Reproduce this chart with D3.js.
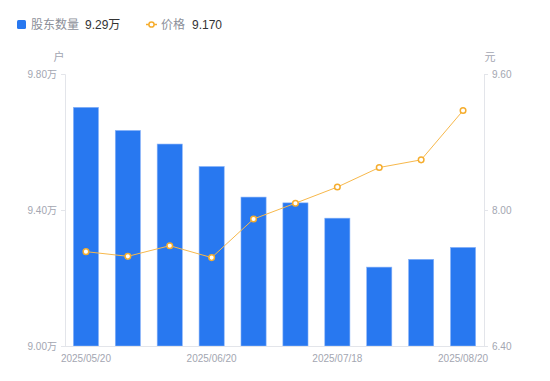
<!DOCTYPE html>
<html><head><meta charset="utf-8">
<script src="https://cdn.jsdelivr.net/npm/d3@7"></script>
<style>body{margin:0;background:#fff;}svg{display:block;font-family:"Liberation Sans",Arial,"Noto Sans CJK SC",sans-serif;}</style>
</head><body><svg id="c" width="550" height="381"></svg>
<script>
const dates = ["2025/05/20","2025/05/30","2025/06/10","2025/06/20","2025/06/30","2025/07/10","2025/07/18","2025/07/31","2025/08/10","2025/08/20"];
const holders = [9.702, 9.634, 9.594, 9.528, 9.438, 9.421, 9.376, 9.232, 9.255, 9.29];
const prices = [7.51, 7.455, 7.58, 7.44, 7.894, 8.08, 8.27, 8.50, 8.59, 9.17];
const leftTicks = [9.00, 9.40, 9.80];
const rightTicks = [6.40, 8.00, 9.60];
const shownDates = ["2025/05/20","2025/06/20","2025/07/18","2025/08/20"];

const svg = d3.select("#c");
const L = 65, R = 484, T = 74, B = 346;
const axisCol = "#e3e5ea", txtCol = "#a3a6b1";

const x = d3.scaleBand().domain(dates).range([L, R]).paddingInner(0.4).paddingOuter(0.2);
const yL = d3.scaleLinear().domain([9.0, 9.8]).range([B, T]);
const yR = d3.scaleLinear().domain([6.4, 9.6]).range([B, T]);

// bars
svg.append("g").selectAll("rect").data(holders).join("rect")
  .attr("x", (d,i)=>x(dates[i])).attr("width", x.bandwidth())
  .attr("y", d=>yL(d)).attr("height", d=>B - yL(d))
  .attr("fill", "#2878f0").attr("stroke", "#8ab4f8").attr("stroke-width", 0.6);

// axes
const gL = svg.append("g").attr("transform", `translate(${L},0)`)
  .call(d3.axisLeft(yL).tickValues(leftTicks).tickSize(4).tickPadding(4).tickFormat(d=>d3.format(".2f")(d)+"万"));
const gR = svg.append("g").attr("transform", `translate(${R},0)`)
  .call(d3.axisRight(yR).tickValues(rightTicks).tickSize(4).tickPadding(4).tickFormat(d3.format(".2f")));
const gX = svg.append("g").attr("transform", `translate(0,${B})`)
  .call(d3.axisBottom(x).tickValues(shownDates).tickSize(0).tickPadding(9));
[gL,gR,gX].forEach(g=>{
  g.selectAll("path.domain").attr("stroke", axisCol);
  g.selectAll(".tick line").attr("stroke", axisCol);
  g.selectAll("text").attr("fill", txtCol).attr("font-size", 10).attr("font-family", '"Liberation Sans",Arial,"Noto Sans CJK SC",sans-serif');
});
gX.select("path.domain").attr("d", `M${L-3},0.5H${R}`);

// unit labels
svg.append("text").attr("x", 59).attr("y", 61).attr("text-anchor","middle").attr("fill", txtCol).attr("font-size", 11).text("户");
svg.append("text").attr("x", 490).attr("y", 61).attr("text-anchor","middle").attr("fill", txtCol).attr("font-size", 11).text("元");

// line
const line = d3.line().x((d,i)=>x(dates[i]) + x.bandwidth()/2).y(d=>yR(d));
svg.append("path").datum(prices).attr("d", line).attr("fill","none").attr("stroke","#f7b84b").attr("stroke-width",1);
svg.append("g").selectAll("circle").data(prices).join("circle")
  .attr("cx",(d,i)=>x(dates[i]) + x.bandwidth()/2).attr("cy", d=>yR(d)).attr("r", 2.8)
  .attr("fill","#fff").attr("stroke","#f5ad2e").attr("stroke-width",1.5);

// legend
const lg = svg.append("g");
lg.append("rect").attr("x",17).attr("y",20).attr("width",9).attr("height",9).attr("rx",1.5).attr("fill","#2878f0");
lg.append("text").attr("x",31).attr("y",29).attr("font-size",12).attr("fill","#8c8f99").text("股东数量");
lg.append("text").attr("x",85).attr("y",29).attr("font-size",12).attr("fill","#333").text("9.29万");
lg.append("line").attr("x1",146).attr("x2",157).attr("y1",24.5).attr("y2",24.5).attr("stroke","#f5ad2e").attr("stroke-width",1.5);
lg.append("circle").attr("cx",151.5).attr("cy",24.5).attr("r",2.6).attr("fill","#fff").attr("stroke","#f5ad2e").attr("stroke-width",1.5);
lg.append("text").attr("x",161).attr("y",29).attr("font-size",12).attr("fill","#8c8f99").text("价格");
lg.append("text").attr("x",192).attr("y",29).attr("font-size",12).attr("fill","#333").text("9.170");
</script></body></html>
